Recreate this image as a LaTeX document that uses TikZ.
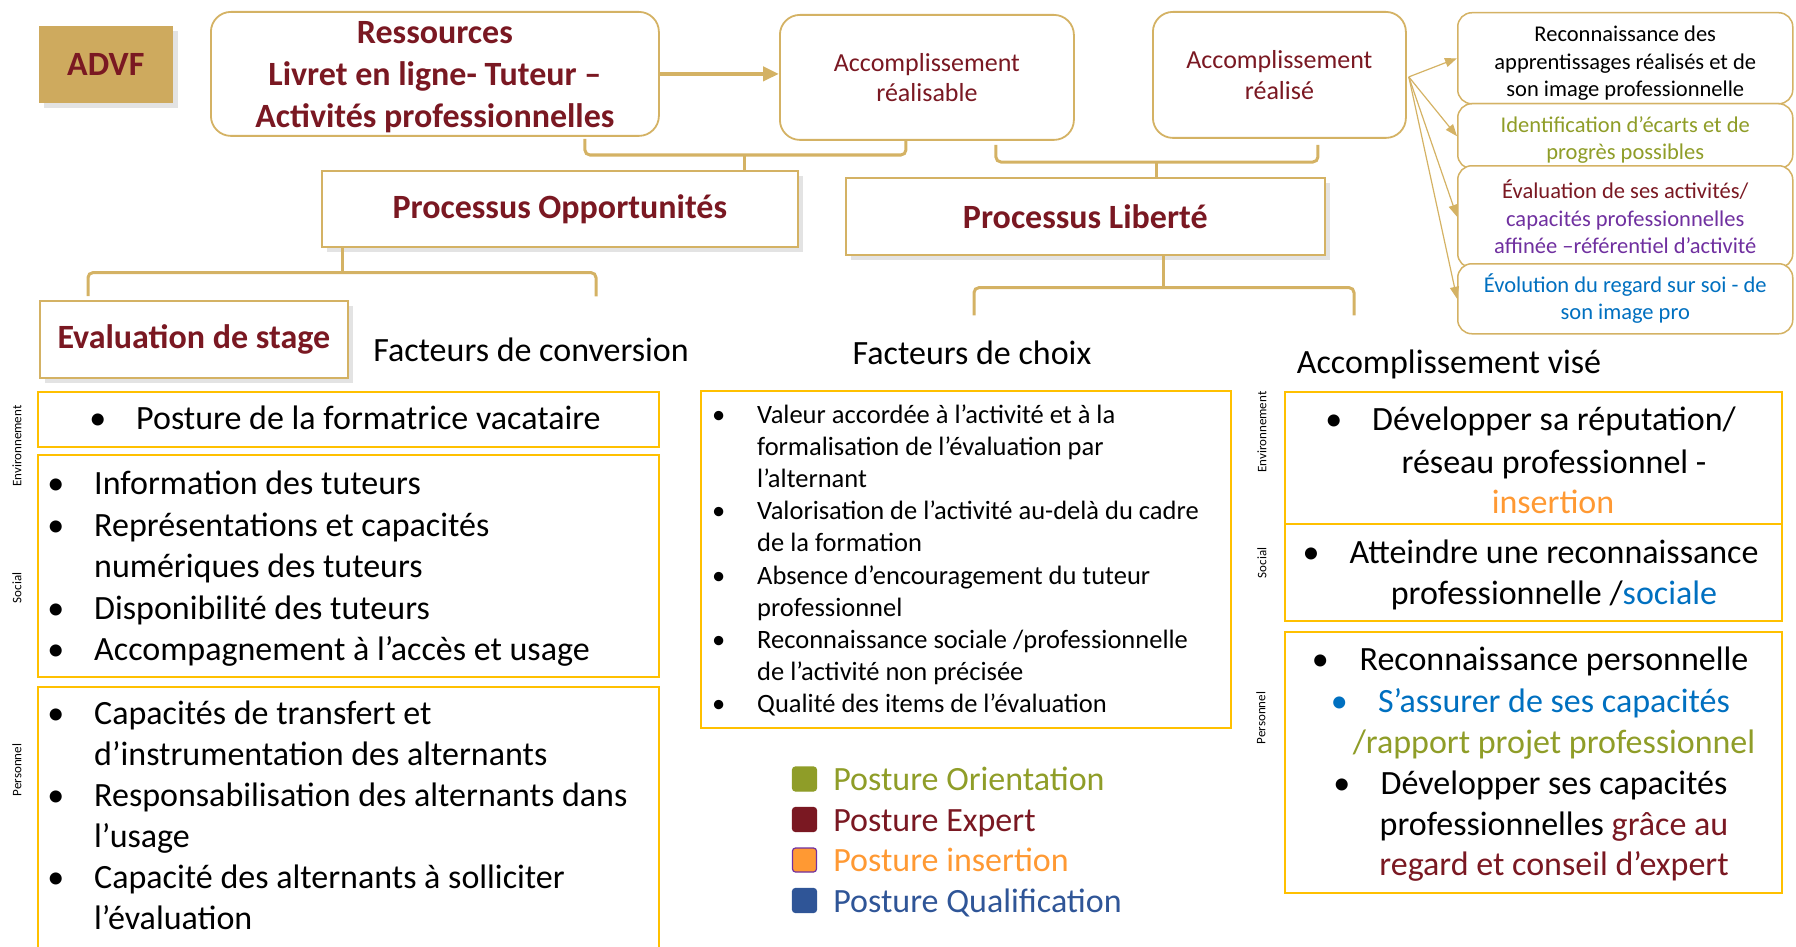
\documentclass[tikz,border=0pt]{standalone}
\usepackage{fontspec}
\setmainfont{Carlito}
\usepackage{tikz}
\usetikzlibrary{positioning,arrows.meta,calc,shadows}
\definecolor{advfred}{RGB}{122,24,34}
\definecolor{advfgold}{RGB}{212,178,100}
\definecolor{advftan}{RGB}{206,170,94}
\definecolor{boxyellow}{RGB}{255,192,0}
\definecolor{postorient}{RGB}{143,157,40}
\definecolor{postins}{RGB}{255,153,51}
\definecolor{postqual}{RGB}{47,85,151}
\definecolor{textblue}{RGB}{0,112,192}
\definecolor{textpurple}{RGB}{112,48,160}

\begin{document}
\begin{tikzpicture}[x=1pt,y=-1pt,
  rbox/.style={draw=advfgold,line width=1.8pt,rounded corners=20pt,fill=white,align=center,anchor=north west,inner sep=0pt},
  tbox/.style={draw=advfgold,line width=1.6pt,fill=white,anchor=north west,inner sep=0pt,align=center,
    drop shadow={shadow xshift=5pt,shadow yshift=-5pt,opacity=0.22}},
  lbox/.style={draw=boxyellow,line width=2pt,anchor=north west,inner sep=0pt},
  brace/.style={draw=advfgold,line width=3pt,rounded corners=5pt},
  fan/.style={draw=advfgold,line width=1.2pt,-{Triangle[length=12pt,width=9pt]}},
  li/.style={anchor=west,inner sep=0pt},
  f34/.style={font=\fontsize{34}{41.5}\selectfont,text height=27pt,text depth=4pt},
  f26/.style={font=\fontsize{26.5}{32}\selectfont,text height=21.5pt,text depth=0.5pt},
  titlefont/.style={font=\fontsize{34}{40}\selectfont\bfseries,text=advfred},
  sidelab/.style={rotate=90,inner sep=0pt,font=\fontsize{13}{15}\selectfont}
]
\useasboundingbox (0,0) rectangle (1796,947);

% Top row
\node[tbox,draw=none,fill=advftan,minimum width=134pt,minimum height=77pt,titlefont] (advf) at (38,25) {ADVF};
\node[rbox,minimum width=448pt,minimum height=124pt,font=\fontsize{34}{42}\selectfont\bfseries,text=advfred] (res) at (210,11)
  {\rule{0pt}{29pt}Ressources\\Livret en ligne- Tuteur –\\Activités professionnelles};
\node[rbox,minimum width=294pt,minimum height=125pt,font=\fontsize{26}{30.5}\selectfont,text=advfred] (acr) at (779,14)
  {Accomplissement\\réalisable};
\node[rbox,minimum width=253pt,minimum height=126pt,font=\fontsize{26}{30.5}\selectfont,text=advfred] (acre) at (1152,11)
  {Accomplissement\\réalisé};

% Right column of results
\node[rbox,rounded corners=14pt,line width=1.5pt,minimum width=335pt,minimum height=91pt,font=\fontsize{22.5}{27.5}\selectfont] (rec1) at (1457,12)
  {\rule{0pt}{26pt}Reconnaissance des\\apprentissages réalisés et de\\son image professionnelle};
\node[rbox,rounded corners=14pt,line width=1.5pt,minimum width=335pt,minimum height=65pt,font=\fontsize{22.5}{27.5}\selectfont,text=postorient] (rec2) at (1457,103)
  {\rule{0pt}{23pt}Identification d’écarts et de\\progrès possibles};
\node[rbox,rounded corners=14pt,line width=1.5pt,minimum width=335pt,minimum height=102pt,font=\fontsize{22.5}{27.5}\selectfont,text=textpurple] (rec3) at (1457,165)
  {\textcolor{advfred}{Évaluation de ses activités/}\\capacités professionnelles\\affinée –référentiel d’activité};
\node[rbox,rounded corners=14pt,line width=1.5pt,minimum width=335pt,minimum height=70pt,font=\fontsize{22.5}{27.5}\selectfont,text=textblue] (rec4) at (1457,263)
  {Évolution du regard sur soi - de\\son image pro};

% Processus boxes
\node[tbox,minimum width=476pt,minimum height=76pt,titlefont] (opp) at (321,170) {Processus Opportunités};
\node[tbox,minimum width=479pt,minimum height=77pt,titlefont] (lib) at (845,177) {Processus Liberté};
\node[tbox,minimum width=308pt,minimum height=77pt,titlefont] (evs) at (39,300) {Evaluation de stage};

% Column titles
\node[li,f34,anchor=center] (fconv) at (531,350) {Facteurs de conversion};
\node[li,f34,anchor=center] (fchoix) at (972,353) {Facteurs de choix};
\node[li,f34,anchor=center] (avise) at (1449,362) {Accomplissement visé};

% Arrows and braces
\draw[advfgold,line width=4pt,-{Triangle[length=16pt,width=14pt]}] (res.east) -- (res.east -| acr.west);
\foreach \k in {1,...,4}
  \draw[fan] ($(acre.east)+(2,2)$) -- (rec\k.west);
\draw[brace] ($(res.south)+(150,2)$) |- ($(opp.north)+(185,-15)$) -| ($(acr.south)+(-21,0)$);
\draw[brace] ($(opp.north)+(185,-15)$) -- ($(opp.north)+(185,0)$);
\draw[brace] ($(acr.south)+(69,4)$) |- ($(lib.north)+(71.5,-15)$) -| ($(acre.south)+(38.5,6)$);
\draw[brace] ($(lib.north)+(71.5,-15)$) -- ($(lib.north)+(71.5,0)$);
\draw[brace] ($(evs.north west)+(49,-4)$) |- ($(opp.south)+(-217,25)$) -| ($(fconv.north)+(65,-38)$);
\draw[brace] ($(opp.south)+(-217,25)$) -- ($(opp.south)+(-217,0)$);
\draw[brace] ($(fchoix.north)+(2,-22)$) |- ($(lib.south)+(78.5,32)$) -| ($(avise.north)+(-95,-31)$);
\draw[brace] ($(lib.south)+(78.5,32)$) -- ($(lib.south)+(78.5,0)$);

% Left column: facteurs de conversion
\node[sidelab] (envlabL) at (17,446) {Environnement};
\node[sidelab] (soclabL) at (17,588) {Social};
\node[sidelab] (perlabL) at (17,770) {Personnel};
\node[lbox,minimum width=621pt,minimum height=55pt] (envL) at (37,391) {};
\node[li,f34] (envL1) at (136,418) {Posture de la formatrice vacataire};
\node[li,f34,left=29.5pt of envL1] (envLb1) {•};
\node[lbox,minimum width=621pt,minimum height=222pt] (socL) at (37,454) {};
\foreach \t/\b [count=\i from 0] in {Information des tuteurs/1, Représentations et capacités/1,
    numériques des tuteurs/0, Disponibilité des tuteurs/1, {Accompagnement à l’accès et usage}/1} {
  \node[li,f34] (socL\i) at (94,{483+41.5*\i}) {\t};
  \ifnum\b=1 \node[li,f34,left=29.5pt of socL\i] (socLb\i) {•}; \fi
}
\node[lbox,minimum width=621pt,minimum height=280pt] (perL) at (37,686) {};
\foreach \t/\b [count=\i from 0] in {Capacités de transfert et/1, d’instrumentation des alternants/0,
    Responsabilisation des alternants dans/1, l’usage/0, Capacité des alternants à solliciter/1, l’évaluation/0} {
  \node[li,f34] (perL\i) at (94,{713+41*\i}) {\t};
  \ifnum\b=1 \node[li,f34,left=29.5pt of perL\i] (perLb\i) {•}; \fi
}

% Middle column: facteurs de choix
\node[lbox,minimum width=530pt,minimum height=337pt] (choixbox) at (700,390) {};
\foreach \t/\b [count=\i from 0] in {Valeur accordée à l’activité et à la/1, formalisation de l’évaluation par/0,
    l’alternant/0, Valorisation de l’activité au-delà du cadre/1, de la formation/0,
    Absence d’encouragement du tuteur/1, professionnel/0, {Reconnaissance sociale /professionnelle}/1,
    de l’activité non précisée/0, Qualité des items de l’évaluation/1} {
  \node[li,f26] (ch\i) at (757,{413+32.1*\i}) {\t};
  \ifnum\b=1 \node[li,f26,left=31.5pt of ch\i] (chb\i) {•}; \fi
}

% Legend
\foreach \c/\d/\t [count=\i from 0] in {postorient/postorient/Posture Orientation, advfred/advfred/Posture Expert,
    postins/textpurple/Posture insertion, postqual/postqual/Posture Qualification} {
  \node[draw=\d,fill=\c,line width=1.2pt,rounded corners=3pt,minimum size=24pt,inner sep=0pt] (legsq\i) at (804.5,{779+40.5*\i}) {};
  \node[li,f34,text=\c,right=16pt of legsq\i] (leg\i) {\t};
}

% Right column: accomplissement vise
\node[sidelab] (envlabR) at (1262,432) {Environnement};
\node[sidelab] (soclabR) at (1262,563) {Social};
\node[sidelab] (perlabR) at (1261,718) {Personnel};
\node[lbox,minimum width=497pt,minimum height=132pt] (envR) at (1284,391) {};
\node[lbox,minimum width=497pt,minimum height=97pt] (socR) at (1284,523) {};
\node[lbox,minimum width=497pt,minimum height=261pt] (perR) at (1284,631) {};
\node[li,f34,anchor=center] (envR1) at (1554,419) {Développer sa réputation/};
\node[li,f34,left=29.5pt of envR1] (envRb1) {•};
\node[li,f34,anchor=center] (envR2) at (1554,462) {réseau professionnel -};
\node[li,f34,anchor=center,text=postins] (envR3) at (1553,502) {insertion};
\node[li,f34,anchor=center] (socR1) at (1554,552) {Atteindre une reconnaissance};
\node[li,f34,left=29.5pt of socR1] (socRb1) {•};
\node[li,f34,anchor=center] (socR2) at (1554,593) {professionnelle /\textcolor{textblue}{sociale}};
\node[li,f34,anchor=center] (perR1) at (1554,659) {Reconnaissance personnelle};
\node[li,f34,left=30.5pt of perR1] (perRb1) {•};
\node[li,f34,anchor=center,text=textblue] (perR2) at (1554,701) {S’assurer de ses capacités};
\node[li,f34,text=textblue,left=30pt of perR2] (perRb2) {•};
\node[li,f34,anchor=center,text=postorient] (perR3) at (1554,742) {/rapport projet professionnel};
\node[li,f34,anchor=center] (perR4) at (1554,783) {Développer ses capacités};
\node[li,f34,left=30pt of perR4] (perRb4) {•};
\node[li,f34,anchor=center] (perR5) at (1554,824) {professionnelles \textcolor{advfred}{grâce au}};
\node[li,f34,anchor=center,text=advfred] (perR6) at (1554,864) {regard et conseil d’expert};
\end{tikzpicture}
\end{document}
